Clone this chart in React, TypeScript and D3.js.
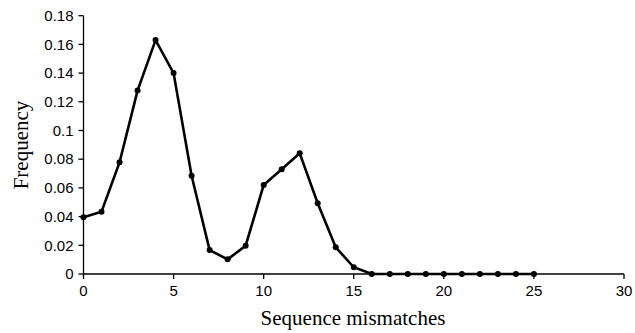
import React from "react";
import * as d3 from "d3";

const mismatches = [0,1,2,3,4,5,6,7,8,9,10,11,12,13,14,15,16,17,18,19,20,21,22,23,24,25];
const frequency = [0.0395,0.0434,0.0778,0.1278,0.163,0.140,0.0685,0.0167,0.0102,0.0197,0.062,0.073,0.0841,0.0493,0.0186,0.0047,0,0,0,0,0,0,0,0,0,0];
const xTicks = [0,5,10,15,20,25,30];
const yTicks = [0,0.02,0.04,0.06,0.08,0.1,0.12,0.14,0.16,0.18];

export default function App() {
  const W = 635, H = 333;
  const x = d3.scaleLinear().domain([0, 30]).range([83.5, 624]);
  const y = d3.scaleLinear().domain([0, 0.18]).range([274, 15.7]);
  const pts = mismatches.map((m, i) => [m, frequency[i]] as [number, number]);
  const line = d3.line<[number, number]>().x(d => x(d[0])).y(d => y(d[1]));
  const tickFont = "'Liberation Sans', Arial, sans-serif";
  const titleFont = "'Liberation Serif', 'Times New Roman', serif";
  return (
    <svg width={W} height={H} style={{ position: "absolute", left: 0, top: 0, background: "#fff" }}>
      <line x1={x(0)} x2={x(30)} y1={y(0)} y2={y(0)} stroke="#000" strokeWidth={1.3} />
      <line x1={x(0)} x2={x(0)} y1={y(0)} y2={y(0.18)} stroke="#000" strokeWidth={1.3} />
      {yTicks.map(t => (
        <g key={"y" + t}>
          <line x1={x(0) - 5} x2={x(0)} y1={y(t)} y2={y(t)} stroke="#000" strokeWidth={1.3} />
          <text x={x(0) - 10} y={y(t)} dy="0.35em" textAnchor="end" fontFamily={tickFont} fontSize={15} fill="#000">
            {String(+t.toFixed(2))}
          </text>
        </g>
      ))}
      {xTicks.map(t => (
        <g key={"x" + t}>
          <line x1={x(t)} x2={x(t)} y1={y(0)} y2={y(0) + 5} stroke="#000" strokeWidth={1.3} />
          <text x={x(t)} y={y(0) + 22} textAnchor="middle" fontFamily={tickFont} fontSize={15} fill="#000">
            {t}
          </text>
        </g>
      ))}
      <path d={line(pts) || ""} fill="none" stroke="#000" strokeWidth={2.6} strokeLinejoin="miter" />
      {pts.map((p, i) => (
        <circle key={i} cx={x(p[0])} cy={y(p[1])} r={3} fill="#000" />
      ))}
      <text x={353} y={325} textAnchor="middle" fontFamily={titleFont} fontSize={21} fill="#000">
        Sequence mismatches
      </text>
      <text transform={`translate(28,145) rotate(-90)`} textAnchor="middle" fontFamily={titleFont} fontSize={21} fill="#000">
        Frequency
      </text>
    </svg>
  );
}
